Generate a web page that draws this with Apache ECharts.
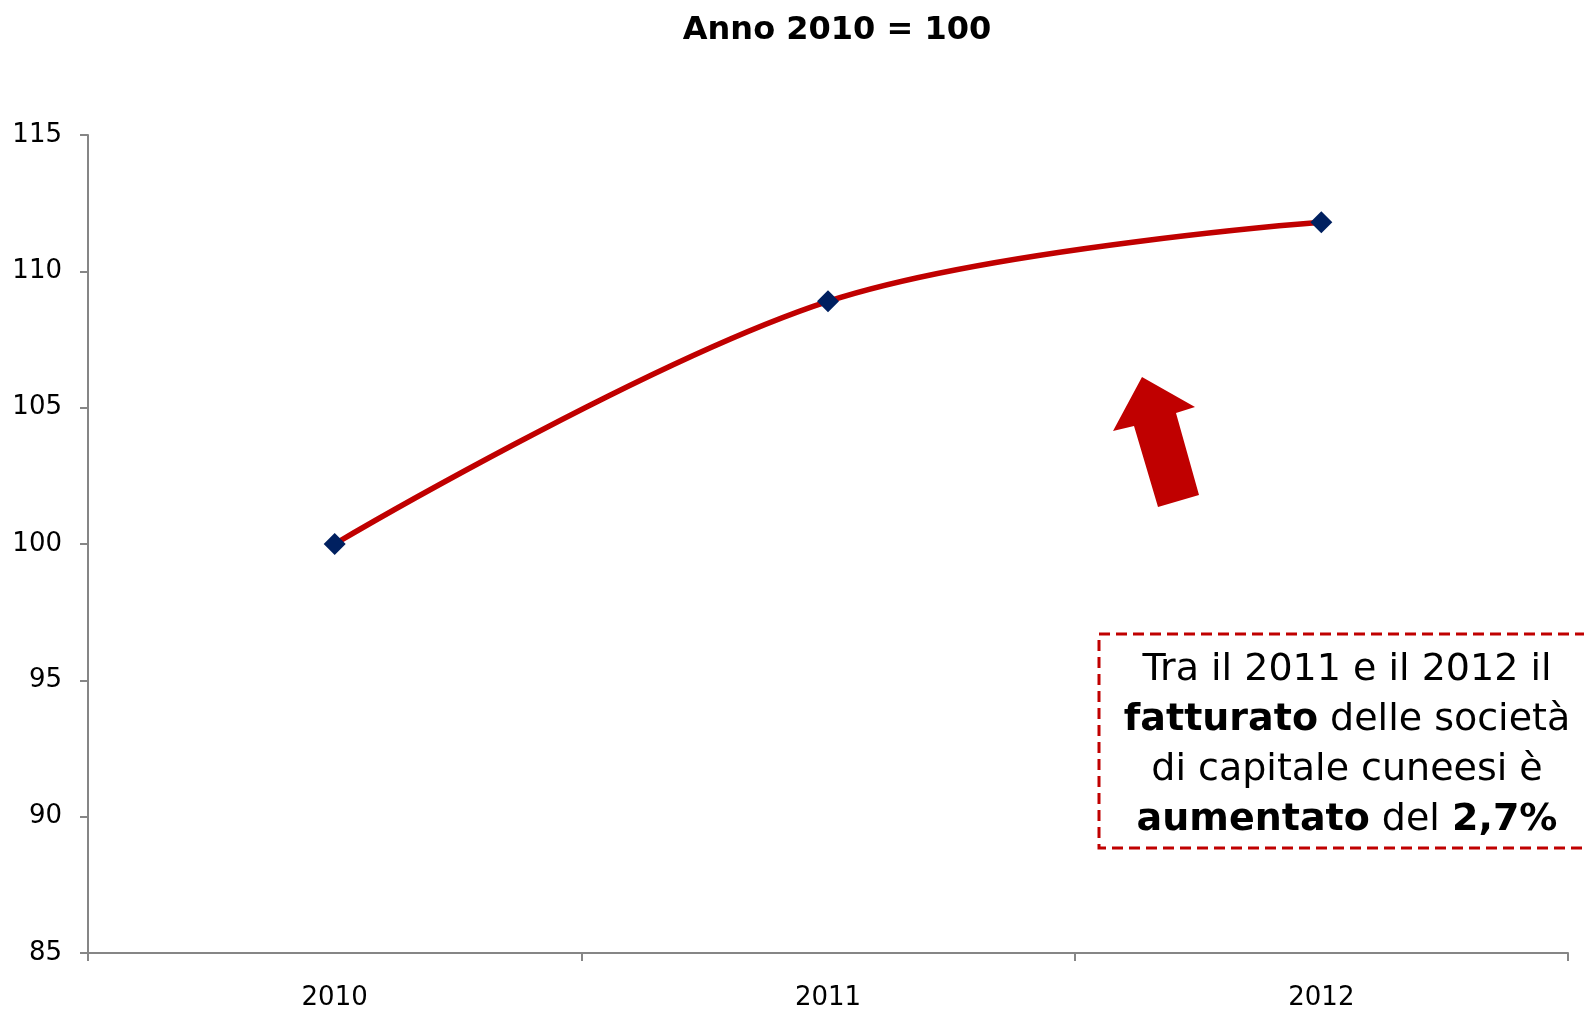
<!DOCTYPE html>
<html>
<head>
<meta charset="utf-8">
<script src="https://cdn.jsdelivr.net/npm/echarts@6/dist/echarts.min.js"></script>
<style>
  html, body { margin: 0; padding: 0; background: #fff; }
  #chart { width: 1584px; height: 1011px; }
</style>
</head>
<body>
<div id="chart"></div>
<script>
// dati
const years = ['2010', '2011', '2012'];
const indexValues = [100, 108.9, 111.8];
const yTicks = [85, 90, 95, 100, 105, 110, 115];

const chart = echarts.init(document.getElementById('chart'));

const font = 'DejaVu Sans, Verdana, sans-serif';
const axisGray = '#868686';

const option = {
  backgroundColor: '#fff',
  animation: false,
  title: {
    text: 'Anno 2010 = 100',
    left: 832,
    textAlign: 'center',
    top: 10,
    textStyle: { fontFamily: font, fontSize: 32, fontWeight: 'bold', color: '#000' }
  },
  grid: { left: 88, right: 16, top: 135, bottom: 58 },
  xAxis: {
    type: 'category',
    data: years,
    boundaryGap: true,
    axisLine: { lineStyle: { color: axisGray, width: 2 } },
    axisTick: { show: true, length: 8, lineStyle: { color: axisGray, width: 2 } },
    axisLabel: { fontFamily: font, fontSize: 26, color: '#000', margin: 32 }
  },
  yAxis: {
    type: 'value',
    min: yTicks[0],
    max: yTicks[yTicks.length - 1],
    interval: 5,
    splitLine: { show: false },
    axisLine: { show: true, lineStyle: { color: axisGray, width: 2 } },
    axisTick: { show: true, length: 8, lineStyle: { color: axisGray, width: 2 } },
    axisLabel: { fontFamily: font, fontSize: 26, color: '#000', margin: 26 }
  },
  series: [
    {
      type: 'line',
      data: indexValues,
      smooth: 0.35,
      symbol: 'diamond',
      symbolSize: 22,
      itemStyle: { color: '#002060' },
      lineStyle: { color: '#C00000', width: 5.5 },
      z: 3
    }
  ],
  graphic: [
    {
      // freccia rossa
      type: 'polygon',
      shape: {
        points: [
          [1142, 377], [1195, 407], [1176, 413], [1199, 495],
          [1158, 507], [1134, 426], [1113, 431]
        ]
      },
      style: { fill: '#C00000' }
    },
    {
      type: 'rect',
      shape: { x: 1099, y: 634, width: 500, height: 214 },
      style: { fill: 'none', stroke: '#C00000', lineWidth: 3, lineDash: [11, 6] }
    },
    {
      type: 'text',
      x: 1347,
      y: 745,
      style: {
        text: 'Tra il 2011 e il 2012 il\n{b|fatturato} delle società\ndi capitale cuneesi è\n{b|aumentato} del {b|2,7%}',
        align: 'center',
        verticalAlign: 'middle',
        fontFamily: font,
        fontSize: 38,
        lineHeight: 50,
        fill: '#000',
        rich: {
          b: { fontFamily: font, fontSize: 38, fontWeight: 'bold', lineHeight: 50, fill: '#000' }
        }
      }
    }
  ]
};

chart.setOption(option);
</script>
</body>
</html>
